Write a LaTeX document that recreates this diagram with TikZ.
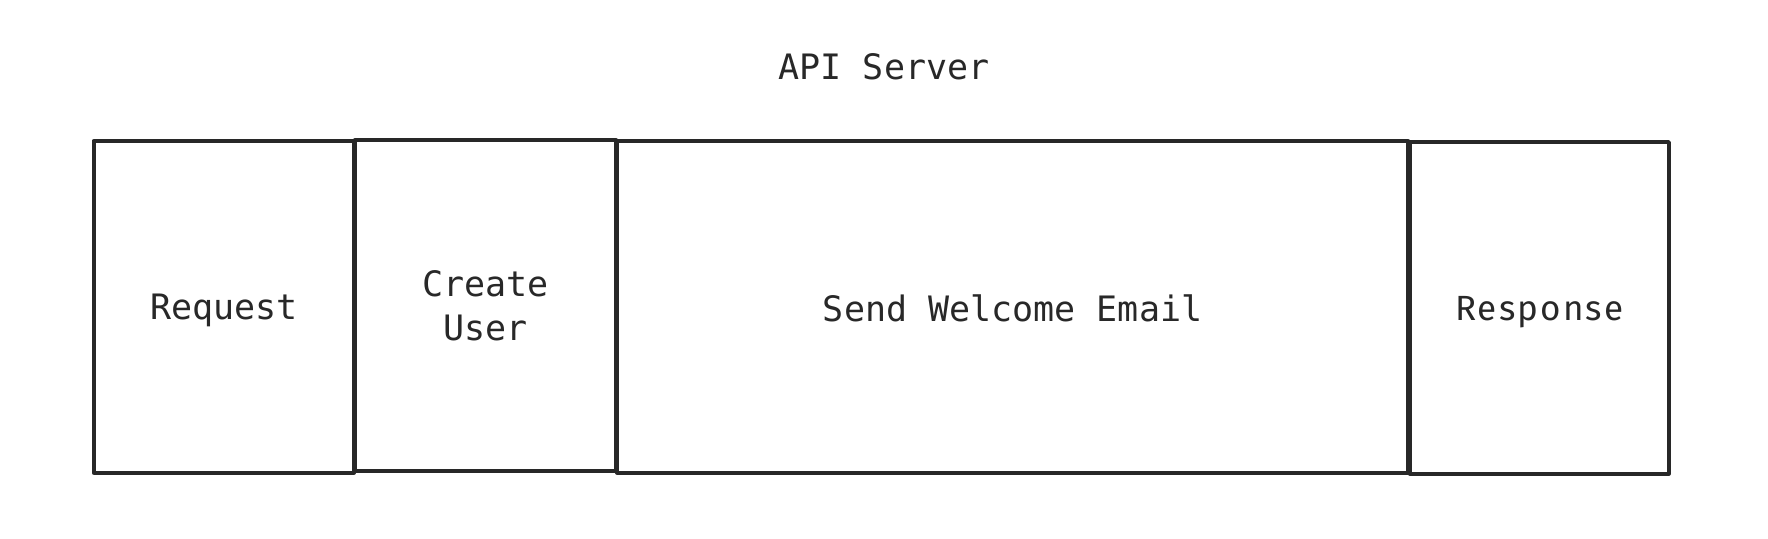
\documentclass[tikz,border=0pt]{standalone}
\usepackage{fontspec}
\setmonofont{DejaVu Sans Mono}
\newfontfamily\respfont{Fira Sans}[LetterSpace=6]
\definecolor{ink}{RGB}{40,40,40}
\newcommand{\lowr}[2]{\raisebox{-#1pt}[\height][\depth]{#2}}
\begin{document}
\begin{tikzpicture}[x=1pt,y=-1pt,
  box/.style={draw=ink, line width=4pt, line join=round, rectangle, inner sep=0pt,
    minimum height=331.5pt, text=ink, font=\ttfamily\fontsize{35}{44}\selectfont, align=center},
  lbl/.style={text=ink, font=\ttfamily\fontsize{35}{44}\selectfont}]
\useasboundingbox (0,0) rectangle (1768,538);
\fill[white] (0,0) rectangle (1768,538);
\node[lbl] (title) at (884,67) {API Server};
\node[box, minimum width=260.5pt] (req) at (223.85,306.75) {\lowr{4}{Request}};
\node[box, minimum width=260.5pt] (create) at (485.45,305.55) {Create\\User};
\node[box, minimum width=791.6pt] (send) at (1012.6,306.75) {\lowr{2}{Send Welcome Email}};
\node[box, minimum width=259.4pt, font=\respfont\fontsize{35}{44}\selectfont] (resp) at (1539.2,307.8) {\lowr{4}{Response}};
\end{tikzpicture}
\end{document}
